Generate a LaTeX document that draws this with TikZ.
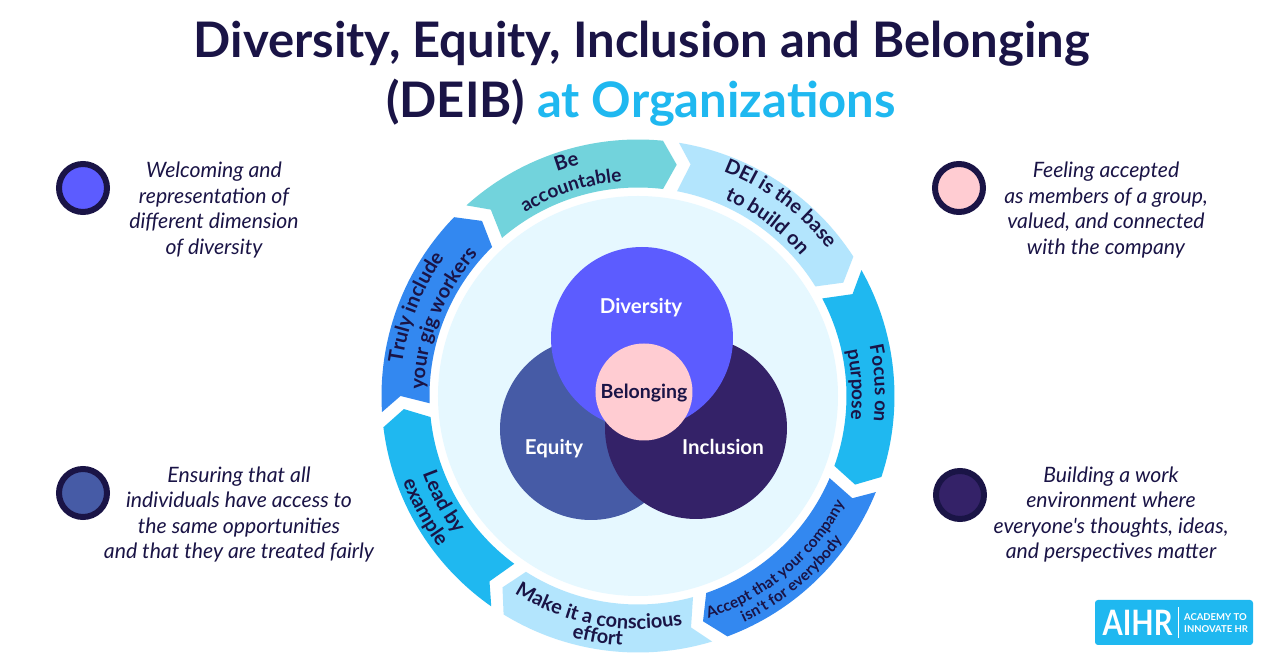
\documentclass[tikz,border=0pt]{standalone}
\usepackage{fontspec}
\setmainfont{Lato}[Ligatures=TeXOff]
\usetikzlibrary{decorations.text}
\definecolor{navycol}{HTML}{1A1446}
\definecolor{tealcol}{HTML}{72D3DC}
\definecolor{palecol}{HTML}{B3E5FD}
\definecolor{skycol}{HTML}{1FB8F0}
\definecolor{bluecol}{HTML}{3388F0}
\definecolor{disccol}{HTML}{E6F8FF}
\definecolor{diversitycol}{HTML}{5C5CFF}
\definecolor{equitycol}{HTML}{465BA6}
\definecolor{inclusioncol}{HTML}{342268}
\definecolor{belongingcol}{HTML}{FFCCD2}
\tikzstyle{title}=[anchor=base,text=navycol,font=\fontsize{49}{60}\selectfont\bfseries]
\tikzstyle{sidetext}=[text=navycol,align=center,font=\fontsize{21.2}{25.5}\selectfont\itshape]
\tikzstyle{venn}=[font=\fontsize{20.5}{25}\selectfont\bfseries,text=white]
\tikzstyle{bullet}=[draw=navycol,line width=6pt,circle,minimum size=48pt,inner sep=0pt]
\def\ringfont{\fontsize{20}{24}\selectfont\bfseries\color{navycol}}
\def\midfont{\fontsize{19}{24}\selectfont\bfseries\color{navycol}}
\def\smallfont{\fontsize{15.5}{20}\selectfont\bfseries\color{navycol}}
% text on an arc: font, start angle, end angle, radius, text
\def\ringlabel#1#2#3#4#5{\path[decorate,decoration={text along path,text align=center,text={|#1|#5}}]
  (#2:#4) arc[start angle=#2,end angle=#3,radius=#4];}
\begin{document}
\begin{tikzpicture}[x=1pt,y=1pt]
  \def\Ro{256.5}  % outer radius of the ring
  \def\Ri{208.5}  % inner radius of the ring
  \def\Rt{234.5}  % radius of the arrow tips
  \def\Rn{237.5}  % radius of the notches
  % ring centre is the origin
  \useasboundingbox (-638,-272) rectangle (642,396);
  \fill[white] (-638,-272) rectangle (642,396);

  % title
  \node[title] (titleA) at (4,338) {Diversity, Equity, Inclusion and Belonging};
  \node[title] (titleB) at (3,278) {(DEIB) \textcolor{skycol}{at Organizations}};

  % ring of arrows, clockwise from the top left
  \foreach \col/\ao/\an/\ai/\bo/\bt/\bi in {
    tealcol/132/128.3/130.7/84.4/80.5/83.1,
    palecol/80.8/77.2/79.2/32.9/28.9/31.7,
    skycol/29.4/25.4/27.9/-18.4/-22.2/-19.6,
    bluecol/-22/-25.5/-23.2/-69.6/-73.9/-70.9,
    palecol/-73.2/-77.1/-74.7/-121.6/-125.3/-122.5,
    skycol/-124.9/-128.7/-126.4/-173/-176.8/-174.2,
    bluecol/-176.4/-180/-178/-224.2/-228.3/-225.6} {
    \fill[\col] (\ao:\Ro) arc[start angle=\ao,end angle=\bo,radius=\Ro]
      -- (\bt:\Rt) -- (\bi:\Ri) arc[start angle=\bi,end angle=\ai,radius=\Ri]
      -- (\an:\Rn) -- cycle;
  }

  % labels on the ring
  \ringlabel{\ringfont}{147}{67}{239}{Be}
  \ringlabel{\midfont}{148}{68}{215}{accountable}
  \ringlabel{\ringfont}{93}{14}{240}{DEI is the base}
  \ringlabel{\ringfont}{93}{14}{215}{to build on}
  \ringlabel{\midfont}{43}{-37}{237}{Focus on}
  \ringlabel{\midfont}{43}{-37}{214}{purpose}
  \ringlabel{\smallfont}{270}{350}{233}{Accept that your company}
  \ringlabel{\smallfont}{270}{350}{250}{isn't for everybody}
  \ringlabel{\ringfont}{219.5}{299.5}{233}{Make it a conscious}
  \ringlabel{\ringfont}{220.5}{300.5}{250}{effort}
  \ringlabel{\ringfont}{168.5}{248.5}{229}{Lead by}
  \ringlabel{\ringfont}{168.5}{248.5}{250}{example}
  \ringlabel{\ringfont}{198.3}{118.3}{238}{Truly include}
  \ringlabel{\ringfont}{198.4}{118.4}{214}{your  gig workers}

  % inner disc and circles
  \fill[disccol] (0,0) circle(200);
  \fill[equitycol] (-47,-33) circle(91);
  \fill[inclusioncol] (58,-32) circle(91);
  \fill[diversitycol] (4,58) circle(91);
  \node[circle,fill=belongingcol,minimum size=97pt,inner sep=0pt] (belonging) at (6,4) {};
  \node[venn] (diversity) at (3,88.5) {Diversity};
  \node[venn] (equity) at (-84,-52.5) {Equity};
  \node[venn] (inclusion) at (85,-51) {Inclusion};
  \node[venn,text=navycol,font=\fontsize{19.5}{25}\selectfont\bfseries] at (6,3) {Belonging};

  % side notes
  \node[bullet,fill=diversitycol] (bulletA) at (-555,208) {};
  \node[bullet,fill=equitycol] (bulletB) at (-555,-97) {};
  \node[bullet,fill=belongingcol] (bulletC) at (321,208) {};
  \node[bullet,fill=inclusioncol] (bulletD) at (322,-99) {};
  \node[sidetext] (noteA) at (-424,186) {Welcoming and\\representation of\\different dimension\\of diversity};
  \node[sidetext] (noteB) at (-399,-118.5) {Ensuring that all\\individuals have access to\\the same opportunities\\and that they are treated fairly};
  \node[sidetext] (noteC) at (468,186) {Feeling accepted\\as members of a group,\\valued, and connected\\with the company};
  \node[sidetext] (noteD) at (473,-118.5) {Building a work\\environment where\\everyone's thoughts, ideas,\\and perspectives matter};

  % logo
  \fill[skycol,rounded corners=3] (457,-249) rectangle (615,-204);
  \draw[white] (540,-242) -- (540,-211);
  \node[text=white,xscale=0.83,transform shape,font=\fontsize{35}{35}\selectfont\bfseries] (logo) at (499.5,-227) {AIHR};
  \node[text=white,anchor=west,align=left,inner sep=0pt,font=\fontsize{9.5}{11.5}\selectfont\bfseries] (logotext) at (546,-227) {ACADEMY TO\\INNOVATE HR};
\end{tikzpicture}
\end{document}
